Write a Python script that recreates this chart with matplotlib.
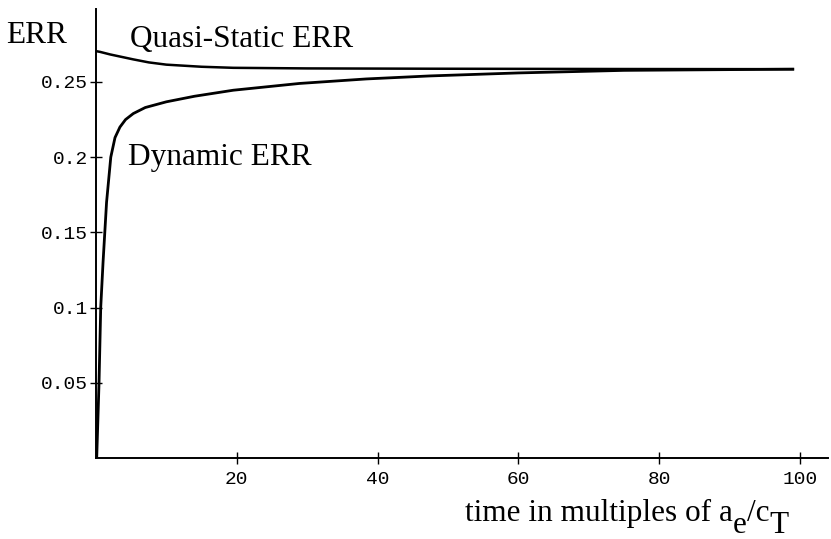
import numpy as np
import matplotlib
matplotlib.use("Agg")
import matplotlib.pyplot as plt

# values
quasi_t = [0.0, 0.57, 2.0, 5.3, 7.5, 10.0, 15.0, 19.5, 30.0, 47.4, 75.0, 99.0]
quasi_err = [0.2705, 0.270, 0.2683, 0.265, 0.2630, 0.2615, 0.2601, 0.2594, 0.2590, 0.2588, 0.2586, 0.2585]

dyn_t = [0.1, 0.43, 0.67, 1.0, 1.5, 2.1, 2.7, 3.4, 4.2, 5.3, 7.0, 10.0, 14.0, 19.5,
         28.9, 38.4, 47.4, 60.0, 75.0, 99.0]
dyn_err = [0.0, 0.05, 0.1, 0.13, 0.17, 0.2, 0.213, 0.22, 0.225, 0.229, 0.233, 0.2368,
           0.2405, 0.2445, 0.249, 0.2520, 0.2540, 0.2560, 0.2577, 0.2585]

x_ticks = [20, 40, 60, 80, 100]
y_ticks = [0.05, 0.1, 0.15, 0.2, 0.25]
y_tick_labels = ["0.05", "0.1", "0.15", "0.2", "0.25"]

W, H = 831, 539
fig = plt.figure(figsize=(W / 100, H / 100), dpi=100)
ax = fig.add_axes([96 / W, 1 - 458 / H, 732 / W, 449 / H])

ax.plot(quasi_t, quasi_err, color='black', lw=1.8, solid_joinstyle='round')
ax.plot(dyn_t, dyn_err, color='black', lw=2.0, solid_joinstyle='round')

ax.set_xlim(0, 104)
ax.set_ylim(0, 0.2985)

for s in ['top', 'right']:
    ax.spines[s].set_visible(False)
for s in ['left', 'bottom']:
    ax.spines[s].set_linewidth(1.4)

ax.set_xticks(x_ticks)
ax.set_yticks(y_ticks)
ax.set_yticklabels(y_tick_labels)
ax.tick_params(direction='inout', length=8, width=1.0, labelsize=14)
for lbl in ax.get_xticklabels() + ax.get_yticklabels():
    lbl.set_family('Liberation Mono')
ax.tick_params(axis='y', pad=2)
ax.tick_params(axis='x', pad=5)

serif = 'Liberation Serif'
fs = 22.5


def px_text(x, y, s):
    # x, y in pixels from top-left, baseline aligned
    return fig.text(x / W, 1 - y / H, s, family=serif, fontsize=fs,
                    va='baseline', ha='left')


px_text(6, 43, "ERR")
px_text(130, 47, "Quasi-Static ERR")
px_text(128, 165, "Dynamic ERR")

# x-axis label with full-size, lowered subscripts
renderer = fig.canvas.get_renderer()
x = 465
for piece, base in [("time in multiples of a", 521), ("e", 533), ("/c", 521), ("T", 533)]:
    t = px_text(x, base, piece)
    x = t.get_window_extent(renderer).x1

fig.savefig("out.png", dpi=100)
